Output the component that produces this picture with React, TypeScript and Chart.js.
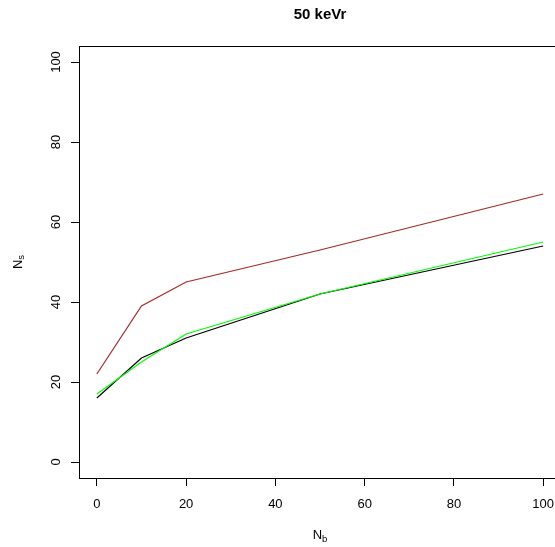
import React, { useEffect, useRef } from "react";
import { Chart, registerables } from "chart.js";

Chart.register(...registerables);

const TITLE = "50 keVr";
const nb = [0, 10, 20, 50, 100];
const nsRed = [22, 39, 45, 53, 67];
const nsBlack = [16, 26, 31, 42, 54];
const nsGreen = [17, 25, 32, 42, 55];
const xTicks = [0, 20, 40, 60, 80, 100];
const yTicks = [0, 20, 40, 60, 80, 100];
const xRange = [-4, 104];
const yRange = [-4, 104];

const FONT = "'Liberation Sans', Arial, Helvetica, sans-serif";

function pts(ys: number[]) {
  return nb.map((x, i) => ({ x, y: ys[i] }));
}

function drawSub(ctx: CanvasRenderingContext2D, main: string, sub: string, cx: number, cy: number) {
  ctx.font = `13px ${FONT}`;
  const w1 = ctx.measureText(main).width;
  ctx.font = `9.5px ${FONT}`;
  const w2 = ctx.measureText(sub).width;
  const total = w1 + w2;
  const x0 = cx - total / 2;
  ctx.textAlign = "left";
  ctx.textBaseline = "middle";
  ctx.font = `13px ${FONT}`;
  ctx.fillText(main, x0, cy);
  ctx.font = `9.5px ${FONT}`;
  ctx.fillText(sub, x0 + w1, cy + 3.5);
}

const framePlugin = {
  id: "rframe",
  afterDraw(chart: any) {
    const { ctx, chartArea } = chart;
    const { left, right, top, bottom } = chartArea;
    ctx.save();
    ctx.strokeStyle = "#000";
    ctx.lineWidth = 1;
    ctx.strokeRect(Math.round(left) + 0.5, Math.round(top) + 0.5, Math.round(right - left), Math.round(bottom - top));
    ctx.fillStyle = "#000";
    ctx.font = `bold 15px ${FONT}`;
    ctx.textAlign = "center";
    ctx.textBaseline = "middle";
    ctx.fillText(TITLE, (left + right) / 2, 15);
    drawSub(ctx, "N", "b", (left + right) / 2, 535.5);
    ctx.translate(18, (top + bottom) / 2);
    ctx.rotate(-Math.PI / 2);
    drawSub(ctx, "N", "s", 0, 0);
    ctx.restore();
  },
};

export default function App() {
  const ref = useRef<HTMLCanvasElement>(null);
  useEffect(() => {
    document.body.style.margin = "0";
    document.body.style.overflow = "hidden";
    const chart = new Chart(ref.current!, {
      type: "line",
      data: {
        datasets: [
          { label: "green", data: pts(nsGreen), borderColor: "#00FF00", borderWidth: 1.2 },
          { label: "black", data: pts(nsBlack), borderColor: "#000000", borderWidth: 1.2 },
          { label: "red", data: pts(nsRed), borderColor: "#A52A2A", borderWidth: 1.2 },
        ],
      },
      options: {
        responsive: false,
        animation: false,
        devicePixelRatio: 1,
        layout: { padding: { top: 46, right: 19, left: 0, bottom: 0 } },
        elements: { point: { radius: 0 }, line: { tension: 0 } },
        plugins: { legend: { display: false }, tooltip: { enabled: false }, title: { display: false } },
        scales: {
          x: {
            type: "linear",
            min: xRange[0],
            max: xRange[1],
            afterBuildTicks: (s: any) => { s.ticks = xTicks.map((v) => ({ value: v })); },
            afterFit: (s: any) => { s.height = 69; },
            grid: { display: true, drawOnChartArea: false, drawTicks: true, tickLength: 8, tickColor: "#000", tickWidth: 1 },
            border: { display: false },
            ticks: { color: "#000", font: { family: FONT, size: 13 }, padding: 11, maxRotation: 0, minRotation: 0 },
          },
          y: {
            type: "linear",
            min: yRange[0],
            max: yRange[1],
            afterBuildTicks: (s: any) => { s.ticks = yTicks.map((v) => ({ value: v })); },
            afterFit: (s: any) => { s.width = 79; },
            grid: { display: true, drawOnChartArea: false, drawTicks: true, tickLength: 8, tickColor: "#000", tickWidth: 1 },
            border: { display: false },
            ticks: { color: "#000", font: { family: FONT, size: 13 }, padding: 4, crossAlign: "center", minRotation: 90, maxRotation: 90 },
          },
        },
      },
      plugins: [framePlugin],
    } as any);
    return () => chart.destroy();
  }, []);
  return (
    <canvas
      ref={ref}
      width={580}
      height={547}
      style={{ position: "fixed", left: 0, top: 0, width: 580, height: 547, display: "block" }}
    />
  );
}
